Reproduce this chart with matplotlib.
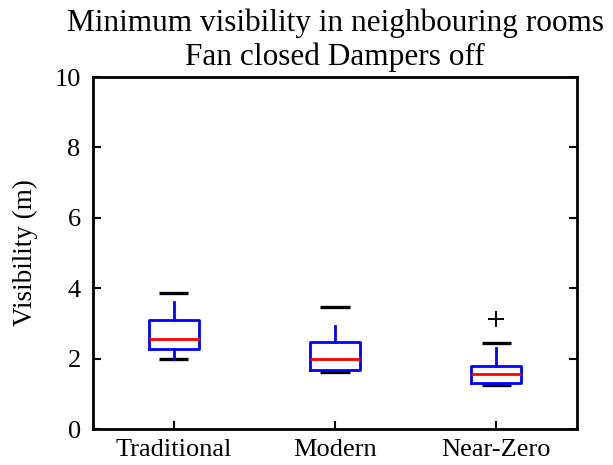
import matplotlib
matplotlib.use("Agg")
import matplotlib.pyplot as plt

plt.rcParams['font.family'] = ['Liberation Serif', 'DejaVu Serif']

categories = ['Traditional', 'Modern', 'Near-Zero']
medians = [2.55, 2.0, 1.56]
q1 = [2.27, 1.68, 1.30]
q3 = [3.10, 2.47, 1.80]
whisker_lo = [1.98, 1.68, 1.30]
whisker_hi = [3.60, 2.93, 2.30]
cap_lo = [1.98, 1.62, 1.25]
cap_hi = [3.85, 3.47, 2.44]
outliers = [[], [], [3.12]]
yticks = [0, 2, 4, 6, 8, 10]

fig = plt.figure(figsize=(6.13, 4.65), dpi=100)
ax = fig.add_axes([0.152, 0.0774, 0.789, 0.757])

positions = [1, 2, 3]
stats = []
for i in range(3):
    stats.append(dict(med=medians[i], q1=q1[i], q3=q3[i],
                      whislo=whisker_lo[i], whishi=whisker_hi[i],
                      fliers=outliers[i], label=categories[i]))

ax.bxp(stats, positions=positions, widths=0.31, showcaps=False,
       boxprops=dict(color='#0000ff', linewidth=2.0),
       whiskerprops=dict(color='#0000ff', linewidth=2.0),
       medianprops=dict(color='#ff0000', linewidth=2.0),
       flierprops=dict(marker='+', markeredgecolor='black', markersize=12,
                       markeredgewidth=1.4))

ax.hlines(cap_lo, [p - 0.09 for p in positions], [p + 0.09 for p in positions],
          colors='black', linewidth=2.4, zorder=1)
ax.hlines(cap_hi, [p - 0.09 for p in positions], [p + 0.09 for p in positions],
          colors='black', linewidth=2.4, zorder=1)

ax.set_xlim(0.5, 3.5)
ax.set_ylim(0, 10)
ax.set_yticks(yticks)
ax.set_xticks(positions)
ax.set_xticklabels(categories)
ax.tick_params(direction='in', length=6, width=1.5, labelsize=19, right=True,
               top=False, color='black')
ax.tick_params(axis='x', pad=7)
ax.tick_params(axis='y', pad=9)
for s in ax.spines.values():
    s.set_linewidth(2)
ax.set_ylabel('Visibility (m)', fontsize=19.5, labelpad=12)
ax.set_title('Minimum visibility in neighbouring rooms\nFan closed Dampers off',
             fontsize=22.5, linespacing=1.18, pad=9)

fig.savefig('out.png', dpi=100)
